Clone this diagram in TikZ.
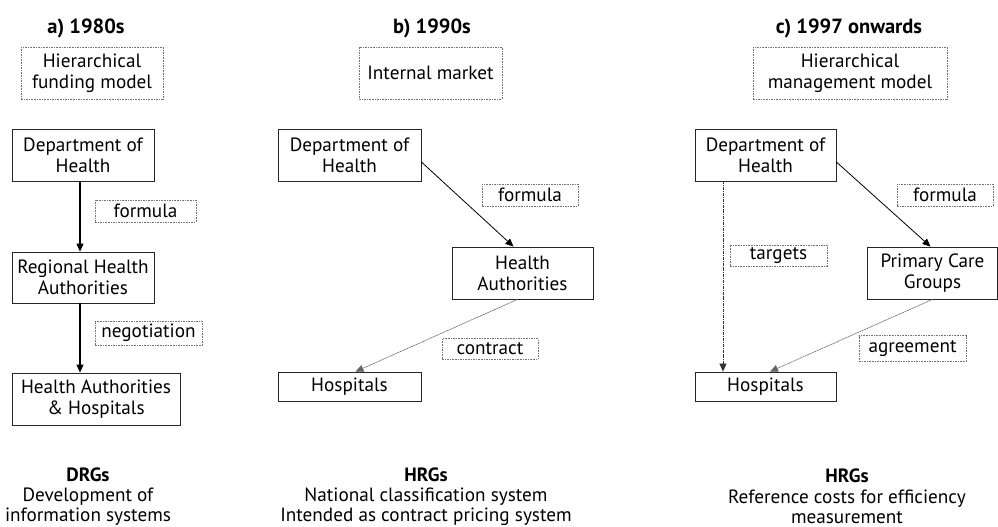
\documentclass[tikz,border=0pt]{standalone}
\usepackage{fontspec}
\setmainfont{PT Sans}
\usetikzlibrary{arrows.meta}
\newcommand{\fs}{\fontsize{19.2}{20.8}\selectfont}
\newcommand{\fn}{\fontsize{19.2}{20.3}\selectfont}
\newcommand{\fb}{\fontsize{20.5}{22}\selectfont\bfseries}
\tikzset{
  box/.style={draw=black!85, line width=0.8pt, align=center, inner sep=0pt, font=\fs, minimum width=#1},
  box/.default=142pt,
  lbl/.style={draw=black!55, dash pattern=on 1.6pt off 1pt, line width=0.6pt, align=center, inner sep=0pt, font=\fs},
  ttl/.style={font=\fb, inner sep=0pt},
  note/.style={align=center, inner sep=0pt, font=\fn},
  arr/.style={-{Triangle[length=8pt,width=7pt]}, line width=1.1pt, black},
  darr/.style={-{Triangle[length=8pt,width=7pt]}, line width=0.6pt, black!60, dash pattern=on 2pt off 0.6pt},
  ddarr/.style={-{Triangle[length=8pt,width=7pt]}, line width=0.7pt, black!80, dash pattern=on 3pt off 1pt on 0.8pt off 1pt},
}
\begin{document}
\begin{tikzpicture}[x=1pt,y=-1pt]
\useasboundingbox (0,0) rectangle (998,527);
% ---- column a
\node[ttl] (ta) at (86,28) {a) 1980s};
\node[lbl, minimum width=142pt, minimum height=52pt] (ha) at (92,73) {Hierarchical\\funding model};
\node[box, minimum height=52pt] (depa) at (83,155) {Department of\\Health};
\node[lbl, minimum width=101pt, minimum height=22pt] (fa) at (145.5,211) {formula};
\node[box, minimum height=51pt] (rha) at (83,277.5) {Regional Health\\Authorities};
\node[lbl, minimum width=107pt, minimum height=24pt] (na) at (148.5,333) {negotiation};
\node[box=168pt, minimum height=52pt] (hah) at (96,399) {Health Authorities\\\& Hospitals};
\node[note] (drg) at (88,496.5) {\textbf{DRGs}\\Development of\\information systems};
\draw[arr] ([xshift=-3pt]depa.south) -- ([xshift=-3pt]rha.north);
\draw[arr] ([xshift=-3pt]rha.south) -- ([xshift=-16pt]hah.north);
% ---- column b
\node[ttl] (tb) at (432,28) {b) 1990s};
\node[lbl, minimum width=143pt, minimum height=52pt] (hb) at (430.5,73) {Internal market};
\node[box=143pt, minimum height=52pt] (depb) at (349.5,155) {Department of\\Health};
\node[lbl, minimum width=96pt, minimum height=22pt] (fb) at (530,195) {formula};
\node[box=141pt, minimum height=52pt] (hab) at (522.5,273) {Health\\Authorities};
\node[lbl, minimum width=96pt, minimum height=21pt] (cb) at (490,349) {contract};
\node[box=143pt, minimum height=29pt] (hospb) at (349.5,386.5) {Hospitals};
\node[note] (hrgb) at (426,496.5) {\textbf{HRGs}\\National classification system\\Intended as contract pricing system};
\draw[arr, line width=0.8pt] ([yshift=-7pt]depb.east) -- ([xshift=-9pt]hab.north);
\draw[darr] ([xshift=-5pt]hab.south) -- ([xshift=6pt]hospb.north);
% ---- column c
\node[ttl] (tc) at (849,28) {c) 1997 onwards};
\node[lbl, minimum width=194pt, minimum height=52pt] (hc) at (850,73) {Hierarchical\\management model};
\node[box=141pt, minimum height=52pt] (depc) at (765.5,155) {Department of\\Health};
\node[lbl, minimum width=96pt, minimum height=22pt] (fc) at (945,195) {formula};
\node[box=130pt, minimum height=52pt] (pcg) at (932.5,273) {Primary Care\\Groups};
\node[lbl, minimum width=97pt, minimum height=21pt] (tg) at (778.5,255.5) {targets};
\node[lbl, minimum width=107pt, minimum height=26pt] (ag) at (912.5,348.5) {agreement};
\node[box=141pt, minimum height=29pt] (hospc) at (765.5,386.5) {Hospitals};
\node[note] (hrgc) at (847,496.5) {\textbf{HRGs}\\Reference costs for efficiency\\measurement};
\draw[arr, line width=0.8pt] ([yshift=-7pt]depc.east) -- ([xshift=-2pt]pcg.north);
\draw[ddarr] ([xshift=-42.5pt]depc.south) -- ([xshift=-42.5pt]hospc.north);
\draw[darr] (pcg.south) -- ([xshift=4.5pt]hospc.north);
\end{tikzpicture}
\end{document}
